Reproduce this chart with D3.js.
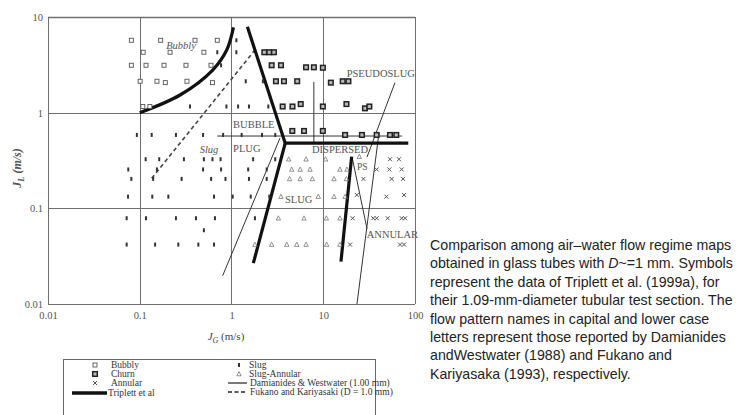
<!DOCTYPE html>
<html>
<head>
<meta charset="utf-8">
<script src="https://cdn.jsdelivr.net/npm/d3@7"></script>
<style>
  body { margin: 0; background: #fff; }
  svg { display: block; }
  .tick text { font-family: "Liberation Serif", "DejaVu Serif", serif; font-size: 10.5px; fill: #555; }
  .region { font-family: "Liberation Serif", "DejaVu Serif", serif; font-size: 10.5px; fill: #555; }
  .legend text { font-family: "Liberation Serif", "DejaVu Serif", serif; font-size: 9.5px; fill: #333; }
  .caption { font-family: "Liberation Sans", Arial, sans-serif; font-size: 14.2px; fill: #222; }
</style>
</head>
<body>
<script>
// ---- data (J_G, J_L in m/s) ----
const bubbly = [
  [0.081,5.71],[0.169,5.71],[0.40,5.71],[0.70,5.71],
  [0.109,4.28],[0.214,4.28],[0.50,4.28],
  [0.081,3.13],[0.117,3.13],[0.184,3.13],[0.319,3.13],[0.598,3.13],
  [0.101,2.13],[0.154,2.13],[0.327,2.13],[0.19,2.06],[0.62,2.06],
  [0.108,1.16],[0.129,1.16]
];
const slug = [
  [1.13,5.71],[0.70,4.28],[1.13,4.28],[0.77,3.13],[1.43,2.13],[2.20,2.13],
  [0.353,1.16],[0.88,1.16],[1.18,1.16],[1.55,1.16],[2.52,1.16],
  [0.093,0.585],[0.135,0.585],[0.248,0.585],[0.49,0.585],[0.81,0.585],[1.29,0.585],[2.15,0.585],[3.0,0.585],
  [0.116,0.326],[0.163,0.326],[0.303,0.326],[0.50,0.326],[0.62,0.326],[0.76,0.326],[1.72,0.326],[3.0,0.326],
  [0.075,0.255],[0.154,0.255],[0.49,0.255],[0.77,0.255],[1.52,0.255],[2.42,0.255],
  [0.081,0.203],[0.14,0.203],[0.286,0.203],[0.60,0.203],[0.86,0.203],[1.55,0.203],[2.42,0.203],
  [0.0745,0.1325],[0.137,0.1325],[0.205,0.1325],[0.645,0.1325],[1.03,0.1325],[1.62,0.1325],[2.58,0.1325],
  [0.072,0.0788],[0.117,0.0788],[0.248,0.0788],[0.41,0.0788],[0.66,0.0788],[1.80,0.0788],
  [0.50,0.059],
  [0.072,0.0418],[0.147,0.0418],[0.263,0.0418],[0.435,0.0418],[0.645,0.0418]
];
const churn = [
  [2.28,4.28],[2.58,4.28],[2.90,4.28],[2.74,3.13],[3.46,3.13],
  [6.5,2.98],[7.9,2.98],[9.9,2.95],
  [3.05,2.13],[3.73,2.13],[5.2,2.13],[12.1,2.06],[16.3,2.13],[18.8,2.13],
  [3.61,1.16],[4.62,1.16],[5.68,1.23],[9.9,1.16],[17.9,1.23],[28.5,1.11],[31.8,1.16],
  [4.6,0.644],[6.17,0.644],[9.9,0.644],
  [17.3,0.585],[26.4,0.585],[38.2,0.585],[53.4,0.585],[62.5,0.585]
];
const slugAnnular = [
  [4.2,0.326],[6.5,0.326],[10.6,0.326],[24.7,0.347],
  [4.53,0.255],[5.6,0.255],[7.17,0.255],[15.2,0.255],[18.1,0.255],
  [4.3,0.203],[5.6,0.203],[7.6,0.203],[13.1,0.203],[17.9,0.203],
  [3.46,0.1325],[8.83,0.1325],[13.1,0.1325],[17.3,0.1325],
  [3.24,0.0788],[6.17,0.0788],[10.8,0.0788],[15.2,0.0788],
  [1.80,0.0418],[2.74,0.0418],[4.0,0.0418],[5.14,0.0418],[6.5,0.0418],[10.9,0.0418],[15.2,0.0418]
];
const annular = [
  [53.4,0.326],[66.9,0.326],
  [38.2,0.255],[52.6,0.255],[71.6,0.255],
  [27.4,0.203],[55.7,0.203],[74,0.203],
  [23.2,0.138],[48.7,0.1325],[76,0.138],
  [20.9,0.0788],[35.1,0.0788],[38.2,0.0788],[50.4,0.0788],[71.6,0.0788],[78,0.0788],
  [19.6,0.0418],[68.7,0.0418],[76,0.0418]
];

// transition boundaries
const triplettLines = [
  [[0.1,1],[0.275,1.53],[0.624,2.79],[0.887,4.52],[1.05,7.8]],
  [[1.49,7.9],[3.85,0.48]],
  [[3.85,0.48],[84.5,0.48]],
  [[3.85,0.48],[1.73,0.0267]],
  [[20.4,0.347],[15.6,0.0277]]
];
const damianidesLines = [
  [[0.70,0.57],[72,0.57]],
  [[7.9,2.1],[7.9,0.48]],
  [[3.38,0.544],[0.80,0.0197]],
  [[60.5,2.06],[30.0,0.344]],
  [[40.5,0.614],[23.3,0.01]],
  [[20.6,0.344],[30.0,0.061]]
];
const fukanoLine = [[0.135,0.206],[1.80,4.52]];

// region names: [text, J_G, J_L, italic]
const regionLabels = [
  ["Bubbly", 0.282, 4.6, true],
  ["Slug", 0.569, 0.379, true],
  ["BUBBLE", 1.04, 0.69, false],
  ["PLUG", 1.04, 0.388, false],
  ["DISPERSED", 7.54, 0.379, false],
  ["PS", 23.3, 0.252, false],
  ["SLUG", 3.83, 0.114, false],
  ["PSEUDOSLUG", 18.0, 2.36, false],
  ["ANNULAR", 29.8, 0.049, false]
];

const xTicks = [0.01, 0.1, 1, 10, 100];
const yTicks = [0.01, 0.1, 1, 10];
const tickLabels = {0.01: "0.01", 0.1: "0.1", 1: "1", 10: "10", 100: "100"};

const legendLeft = ["Bubbly", "Churn", "Annular", "Triplett et al"];
const legendRight = ["Slug", "Slug-Annular", "Damianides & Westwater (1.00 mm)", "Fukano and Kariyasaki (D = 1.0 mm)"];

const captionLines = [
  "Comparison among air\u2013water flow regime maps",
  "obtained in glass tubes with |D|~=1 mm. Symbols",
  "represent the data of Triplett et al. (1999a), for",
  "their 1.09-mm-diameter tubular test section. The",
  "flow pattern names in capital and lower case",
  "letters represent those reported by Damianides",
  "andWestwater (1988) and Fukano and",
  "Kariyasaka (1993), respectively."
];

// ---- layout ----
const width = 745, height = 415;
const plot = {left: 48, right: 415, top: 17, bottom: 304};

const svg = d3.select("body").append("svg")
  .attr("width", width)
  .attr("height", height);

const x = d3.scaleLog().domain([0.01, 100]).range([plot.left, plot.right]);
const y = d3.scaleLog().domain([0.01, 10]).range([plot.bottom, plot.top]);

// grid + frame
const grid = svg.append("g").attr("stroke", "#6f6f6f").attr("stroke-width", 1).attr("fill", "none");
grid.selectAll("line.vx")
  .data(xTicks)
  .enter().append("line")
  .attr("x1", d => Math.round(x(d)) + 0.5).attr("x2", d => Math.round(x(d)) + 0.5)
  .attr("y1", plot.top).attr("y2", plot.bottom);
grid.selectAll("line.hy")
  .data(yTicks)
  .enter().append("line")
  .attr("y1", d => Math.round(y(d)) + 0.5).attr("y2", d => Math.round(y(d)) + 0.5)
  .attr("x1", plot.left).attr("x2", plot.right)
  .attr("stroke-width", d => d == 10 ? 1.6 : 1.2);

// axes (labels only, grid above does the lines)
const xAxis = d3.axisBottom(x).tickValues(xTicks).tickSize(0).tickPadding(8)
  .tickFormat(d => tickLabels[d]);
svg.append("g").attr("transform", `translate(0,${plot.bottom})`).call(xAxis)
  .call(g => g.select(".domain").remove());

const yAxis = d3.axisLeft(y).tickValues(yTicks).tickSize(0).tickPadding(5)
  .tickFormat(d => tickLabels[d]);
svg.append("g").attr("transform", `translate(${plot.left},0)`).call(yAxis)
  .call(g => g.select(".domain").remove());

// axis titles
const yt = svg.append("text")
  .attr("transform", "translate(21,168) rotate(-90)")
  .attr("text-anchor", "middle")
  .style("font-family", "'Liberation Serif', serif").style("font-size", "12px")
  .style("font-style", "italic").style("font-weight", "bold").style("fill", "#555");
yt.append("tspan").text("J");
yt.append("tspan").attr("dy", 3).style("font-size", "8.5px").text("L");
yt.append("tspan").attr("dy", -3).text("  (m/s)");

const xt = svg.append("text")
  .attr("x", 226).attr("y", 340)
  .attr("text-anchor", "middle")
  .style("font-family", "'Liberation Serif', serif").style("font-size", "11px").style("fill", "#444");
xt.append("tspan").style("font-style", "italic").text("J");
xt.append("tspan").attr("dy", 3).style("font-size", "8px").style("font-style", "italic").text("G");
xt.append("tspan").attr("dy", -3).text(" (m/s)");

// boundaries
const line = d3.line().x(d => x(d[0])).y(d => y(d[1]));
const curved = d3.line().x(d => x(d[0])).y(d => y(d[1])).curve(d3.curveCatmullRom);

const bounds = svg.append("g").attr("fill", "none");
bounds.selectAll("path.dw")
  .data(damianidesLines)
  .enter().append("path")
  .attr("d", line)
  .attr("stroke", "#333").attr("stroke-width", 1);
bounds.append("path")
  .attr("d", line(fukanoLine))
  .attr("stroke", "#444").attr("stroke-width", 1.6).attr("stroke-dasharray", "4,3");
bounds.selectAll("path.tr")
  .data(triplettLines)
  .enter().append("path")
  .attr("d", d => d.length > 2 ? curved(d) : line(d))
  .attr("stroke", "#111").attr("stroke-width", 3.2).attr("stroke-linejoin", "round");

// symbols
function drawSymbol(g, kind, cx, cy) {
  if (kind == "bubbly") {
    g.append("rect").attr("x", cx - 2).attr("y", cy - 2).attr("width", 4).attr("height", 4)
      .attr("fill", "#fff").attr("stroke", "#555").attr("stroke-width", 0.9);
  } else if (kind == "churn") {
    g.append("rect").attr("x", cx - 2.3).attr("y", cy - 2.3).attr("width", 4.6).attr("height", 4.6)
      .attr("fill", "#bbb").attr("stroke", "#222").attr("stroke-width", 1.5);
  } else if (kind == "slug") {
    g.append("rect").attr("x", cx - 1).attr("y", cy - 2).attr("width", 2).attr("height", 4)
      .attr("fill", "#333");
  } else if (kind == "slugAnnular") {
    g.append("path").attr("d", `M${cx},${cy - 2.4}L${cx + 2.2},${cy + 1.8}L${cx - 2.2},${cy + 1.8}Z`)
      .attr("fill", "none").attr("stroke", "#777").attr("stroke-width", 0.8);
  } else if (kind == "annular") {
    g.append("path").attr("d", `M${cx - 2},${cy - 2}L${cx + 2},${cy + 2}M${cx + 2},${cy - 2}L${cx - 2},${cy + 2}`)
      .attr("stroke", "#555").attr("stroke-width", 1);
  }
}

const series = [["bubbly", bubbly], ["slug", slug], ["churn", churn], ["slugAnnular", slugAnnular], ["annular", annular]];
const pts = svg.append("g");
series.forEach(([kind, data]) => {
  data.forEach(d => drawSymbol(pts, kind, x(d[0]), y(d[1])));
});

// region names
svg.append("g").selectAll("text")
  .data(regionLabels)
  .enter().append("text")
  .classed("region", true)
  .attr("x", d => x(d[1]))
  .attr("y", d => y(d[2]))
  .attr("text-anchor", d => d[3] ? "middle" : "start")
  .style("font-style", d => d[3] ? "italic" : "normal")
  .style("font-size", d => d[0] == "PS" ? "9.5px" : null)
  .text(d => d[0]);

// legend
const legend = svg.append("g").classed("legend", true);
legend.append("rect")
  .attr("x", 63.5).attr("y", 359.5).attr("width", 312).attr("height", 60)
  .attr("fill", "#fff").attr("stroke", "#666").attr("stroke-width", 1);

const rowY = i => 365 + i * 9;
const leftKinds = ["bubbly", "churn", "annular"];
legendLeft.forEach((name, i) => {
  if (i < 3) {
    drawSymbol(legend, leftKinds[i], 95, rowY(i));
    legend.append("text").attr("x", 111).attr("y", rowY(i) + 3).text(name);
  } else {
    legend.append("line").attr("x1", 72).attr("x2", 107).attr("y1", rowY(i) + 1).attr("y2", rowY(i) + 1)
      .attr("stroke", "#111").attr("stroke-width", 3.5);
    legend.append("text").attr("x", 108).attr("y", rowY(i) + 4).text(name);
  }
});
const rightKinds = ["slug", "slugAnnular"];
legendRight.forEach((name, i) => {
  if (i < 2) {
    drawSymbol(legend, rightKinds[i], 239, rowY(i));
    legend.append("text").attr("x", 249).attr("y", rowY(i) + 3).text(name);
  } else {
    const l = legend.append("line").attr("x1", 228).attr("x2", 247).attr("y1", rowY(i)).attr("y2", rowY(i))
      .attr("stroke", "#222").attr("stroke-width", 1.2);
    if (i == 3) l.attr("stroke-dasharray", "4,2.5").attr("stroke-width", 1.5);
    legend.append("text").attr("x", 250).attr("y", rowY(i) + 3).text(name);
  }
});

// caption (|...| marks italic)
captionLines.forEach((ln, i) => {
  const t = svg.append("text").classed("caption", true)
    .attr("x", 430).attr("y", 250 + i * 18.4);
  ln.split("|").forEach((part, k) => {
    t.append("tspan").style("font-style", k % 2 ? "italic" : "normal").text(part);
  });
});
</script>
</body>
</html>
